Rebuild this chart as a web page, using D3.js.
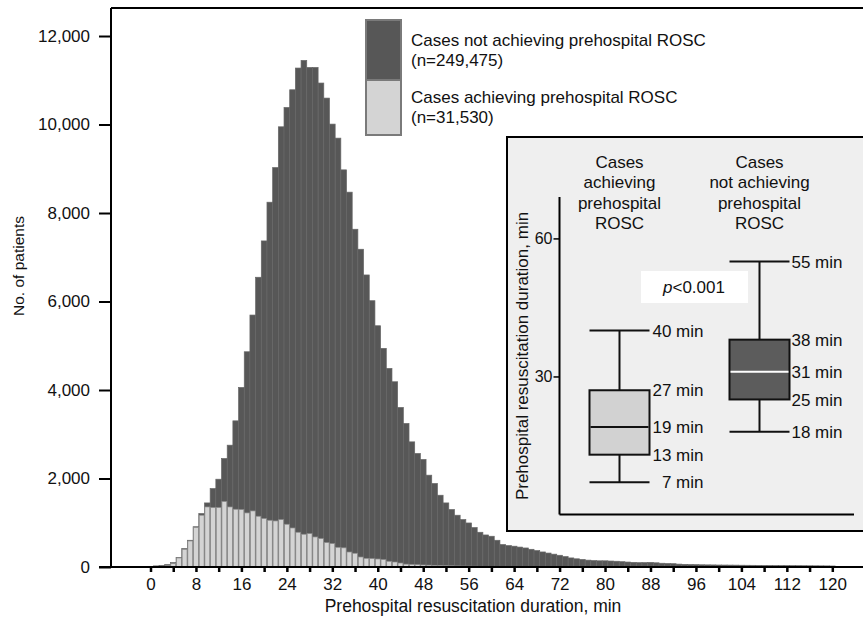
<!DOCTYPE html>
<html>
<head>
<meta charset="utf-8">
<script src="https://cdn.jsdelivr.net/npm/d3@7"></script>
<style>
  body { margin: 0; background: #fff; }
  svg { display: block; font-family: "Liberation Sans", Arial, sans-serif; }
</style>
</head>
<body>
<script>

// minutes 0..120, one bar per minute
var minutes = d3.range(0, 121);

// cases achieving prehospital ROSC (light, bottom of stack)
var rosc = [5, 10, 15, 30, 77, 204, 400, 588, 895, 1170,
  1357, 1343, 1343, 1480, 1357, 1305, 1298, 1222, 1267, 1147,
  1095, 1056, 1041, 1071, 966, 882, 785, 740, 755, 679,
  642, 551, 529, 445, 433, 339, 310, 226, 196, 190,
  181, 167, 129, 113, 90, 65, 58, 52, 46, 42,
  38, 34, 30, 27, 24, 22, 20, 18, 16, 15,
  14, 13, 12, 11, 10, 10, 9, 9, 8, 8,
  7, 7, 6, 6, 6, 5, 5, 5, 5, 4,
  4, 4, 4, 4, 3, 3, 3, 3, 3, 3,
  3, 3, 3, 2, 2, 2, 2, 2, 2, 2,
  2, 2, 2, 2, 2, 2, 2, 2, 2, 2,
  1, 1, 1, 1, 1, 1, 1, 1, 1, 1, 1];

// cases not achieving prehospital ROSC (dark, stacked on top)
var noRosc = [10, 15, 20, 25, 23, 10, 16, 16, 15, 38,
  91, 430, 641, 972, 1396, 1998, 2760, 3642, 4427, 5401,
  6274, 7188, 7986, 8877, 9419, 9903, 10491, 10708, 10535, 10611,
  10295, 10046, 9480, 9247, 8542, 8132, 7323, 6955, 6404, 5828,
  5271, 4774, 4359, 4073, 3516, 3179, 2770, 2514, 2384, 2033,
  1849, 1588, 1418, 1272, 1146, 1050, 975, 873, 769, 709,
  681, 591, 495, 473, 460, 440, 421, 391, 362, 332,
  308, 283, 259, 229, 199, 180, 165, 150, 140, 136,
  136, 131, 126, 116, 109, 102, 95, 97, 102, 92,
  82, 77, 72, 63, 58, 53, 51, 48, 46, 45,
  43, 42, 41, 40, 38, 37, 36, 35, 34, 33,
  33, 32, 31, 30, 29, 28, 27, 26, 25, 24, 22];

var yTicks = [0, 2000, 4000, 6000, 8000, 10000, 12000];
var xTicks = d3.range(0, 121, 4);

var legendLabels = [["Cases not achieving prehospital ROSC", "(n=249,475)"],
                    ["Cases achieving prehospital ROSC", "(n=31,530)"]];

// inset box plot
var boxGroups = [["Cases", "achieving", "prehospital", "ROSC"],
                 ["Cases", "not achieving", "prehospital", "ROSC"]];
var boxLow = [7, 18];
var boxQ1 = [13, 25];
var boxMed = [19, 31];
var boxQ3 = [27, 38];
var boxHigh = [40, 55];
var insetTicks = [30, 60];

var darkFill = "#575757", lightFill = "#d4d4d4";

var W = 863, H = 618;
var svg = d3.select("body").append("svg")
    .attr("width", W)
    .attr("height", H);

var data = minutes.map(function (m, i) { return {min: m, rosc: rosc[i], noRosc: noRosc[i]}; });
var stacked = d3.stack().keys(["rosc", "noRosc"])(data);

var x = d3.scaleLinear().domain([0, 120]).range([150.5, 832.3]);
var y = d3.scaleLinear().domain([0, 12633]).range([567, 8]);
var bw = x(1) - x(0);

// dark bars: full stack height
svg.append("g")
    .attr("fill", darkFill)
    .attr("stroke", "#676767")
    .attr("stroke-width", 0.7)
  .selectAll("rect")
  .data(stacked[1])
  .enter().append("rect")
    .attr("x", function (d) { return x(d.data.min) - bw / 2; })
    .attr("width", bw)
    .attr("y", function (d) { return y(d[1]); })
    .attr("height", function (d) { return y(0) - y(d[1]); });

// light bars in front
svg.append("g")
    .attr("fill", lightFill)
    .attr("stroke", "#8a8a8a")
    .attr("stroke-width", 0.7)
  .selectAll("rect")
  .data(stacked[0])
  .enter().append("rect")
    .attr("x", function (d) { return x(d.data.min) - bw / 2 + 0.4; })
    .attr("width", bw - 0.8)
    .attr("y", function (d) { return y(d[1]); })
    .attr("height", function (d) { return y(d[0]) - y(d[1]); });

// frame
svg.append("line").attr("x1", 111).attr("x2", W).attr("y1", 8).attr("y2", 8)
  .attr("stroke", "#000").attr("stroke-width", 2);
svg.append("line").attr("x1", 99).attr("x2", W).attr("y1", y(0)).attr("y2", y(0))
  .attr("stroke", "#000").attr("stroke-width", 2);

// y axis
var yAxis = svg.append("g")
  .attr("transform", "translate(111,0)")
  .call(d3.axisLeft(y).tickValues(yTicks).tickFormat(d3.format(",")).tickSize(12).tickPadding(9));
yAxis.select(".domain").attr("stroke-width", 2).attr("d", "M0," + y(0) + "V8");
yAxis.selectAll(".tick line").attr("stroke-width", 2);
yAxis.selectAll("text").attr("font-size", 17).attr("fill", "#111").attr("font-family", null);

// x axis
var xAxis = svg.append("g")
  .attr("transform", "translate(0," + y(0) + ")")
  .call(d3.axisBottom(x).tickValues(xTicks).tickSize(5).tickPadding(6)
    .tickFormat(function (d) { return d % 8 === 0 ? d : ""; }));
xAxis.select(".domain").remove();
xAxis.selectAll(".tick line").attr("stroke-width", 2.5);
xAxis.selectAll("text").attr("font-size", 17).attr("fill", "#111").attr("font-family", null);

svg.append("text")
  .attr("x", 473).attr("y", 612)
  .attr("text-anchor", "middle")
  .attr("font-size", 17.5)
  .attr("fill", "#111")
  .text("Prehospital resuscitation duration, min");

svg.append("text")
  .attr("transform", "translate(24,266) rotate(-90)")
  .attr("text-anchor", "middle")
  .attr("font-size", 15.5)
  .attr("fill", "#111")
  .text("No. of patients");

// legend
var leg = svg.append("g");
leg.selectAll("rect")
  .data([darkFill, lightFill])
  .enter().append("rect")
    .attr("x", 366)
    .attr("y", function (d, i) { return 20 + i * 60; })
    .attr("width", 35)
    .attr("height", function (d, i) { return i === 0 ? 60 : 55; })
    .attr("fill", function (d) { return d; })
    .attr("stroke", "#7a7a7a")
    .attr("stroke-width", 2);
leg.selectAll("text")
  .data(legendLabels)
  .enter().append("text")
    .attr("x", 411)
    .attr("y", function (d, i) { return 46 + i * 57; })
    .attr("font-size", 17)
    .attr("fill", "#111")
  .selectAll("tspan")
  .data(function (d) { return d; })
  .enter().append("tspan")
    .attr("x", 411)
    .attr("dy", function (d, i) { return i === 0 ? 0 : 20; })
    .text(function (d) { return d; });

// inset
var inset = svg.append("g");
inset.append("rect")
  .attr("x", 507).attr("y", 137)
  .attr("width", 370).attr("height", 394)
  .attr("fill", "#efefef")
  .attr("stroke", "#000")
  .attr("stroke-width", 2);

var iy = d3.scaleLinear().domain([0, 69]).range([514.5, 197]);
var ix = d3.scalePoint().domain([0, 1]).range([619.5, 759.5]);
var boxW = 60;

inset.append("line").attr("x1", 559.5).attr("x2", 854).attr("y1", iy(0)).attr("y2", iy(0))
  .attr("stroke", "#000").attr("stroke-width", 2);
var iAxis = inset.append("g")
  .attr("transform", "translate(559.5,0)")
  .call(d3.axisLeft(iy).tickValues(insetTicks).tickSize(6).tickPadding(1));
iAxis.select(".domain").attr("stroke-width", 2).attr("d", "M0," + iy(0) + "V" + iy(69));
iAxis.selectAll(".tick line").attr("stroke-width", 1.5);
iAxis.selectAll("text").attr("font-size", 16).attr("fill", "#111").attr("font-family", null);

inset.append("text")
  .attr("transform", "translate(528,356) rotate(-90)")
  .attr("text-anchor", "middle")
  .attr("font-size", 17)
  .attr("fill", "#111")
  .text("Prehospital resuscitation duration, min");

// group headers
inset.selectAll(".hdr")
  .data(boxGroups)
  .enter().append("text")
    .attr("class", "hdr")
    .attr("text-anchor", "middle")
    .attr("font-size", 17)
    .attr("fill", "#111")
    .attr("y", 168)
  .selectAll("tspan")
  .data(function (d, i) { return d.map(function (t) { return {t: t, g: i}; }); })
  .enter().append("tspan")
    .attr("x", function (d) { return ix(d.g); })
    .attr("dy", function (d, i) { return i === 0 ? 0 : 20.3; })
    .text(function (d) { return d.t; });

// p value box
inset.append("rect")
  .attr("x", 641).attr("y", 271).attr("width", 107).attr("height", 32)
  .attr("fill", "#fff");
var pt = inset.append("text")
  .attr("x", 694).attr("y", 293)
  .attr("text-anchor", "middle")
  .attr("font-size", 17)
  .attr("fill", "#111");
pt.append("tspan").attr("font-style", "italic").text("p");
pt.append("tspan").text("<0.001");

var boxes = inset.selectAll(".box")
  .data([0, 1])
  .enter().append("g")
    .attr("class", "box");

// whiskers
boxes.append("line")
  .attr("x1", function (i) { return ix(i); }).attr("x2", function (i) { return ix(i); })
  .attr("y1", function (i) { return iy(boxHigh[i]); })
  .attr("y2", function (i) { return iy(boxLow[i]); })
  .attr("stroke", "#111").attr("stroke-width", 2);
[boxHigh, boxLow].forEach(function (arr) {
  boxes.append("line")
    .attr("x1", function (i) { return ix(i) - boxW / 2; })
    .attr("x2", function (i) { return ix(i) + boxW / 2; })
    .attr("y1", function (i) { return iy(arr[i]); })
    .attr("y2", function (i) { return iy(arr[i]); })
    .attr("stroke", "#111").attr("stroke-width", 2);
});
boxes.append("rect")
  .attr("x", function (i) { return ix(i) - boxW / 2; })
  .attr("width", boxW)
  .attr("y", function (i) { return iy(boxQ3[i]); })
  .attr("height", function (i) { return iy(boxQ1[i]) - iy(boxQ3[i]); })
  .attr("fill", function (i) { return i === 0 ? "#d2d2d2" : "#5c5c5c"; })
  .attr("stroke", "#111").attr("stroke-width", 2);
boxes.append("line")
  .attr("x1", function (i) { return ix(i) - boxW / 2 + 1; })
  .attr("x2", function (i) { return ix(i) + boxW / 2 - 1; })
  .attr("y1", function (i) { return iy(boxMed[i]); })
  .attr("y2", function (i) { return iy(boxMed[i]); })
  .attr("stroke", function (i) { return i === 0 ? "#111" : "#fff"; })
  .attr("stroke-width", 2);

// value labels
[boxHigh, boxQ3, boxMed, boxQ1, boxLow].forEach(function (arr) {
  boxes.append("text")
    .attr("x", function (i) { return ix(i) + (i === 0 ? 84 : 83); })
    .attr("y", function (i) { return iy(arr[i]); })
    .attr("dy", "0.36em")
    .attr("text-anchor", "end")
    .attr("font-size", 17)
    .attr("fill", "#111")
    .text(function (i) { return arr[i] + " min"; });
});

</script>
</body>
</html>
